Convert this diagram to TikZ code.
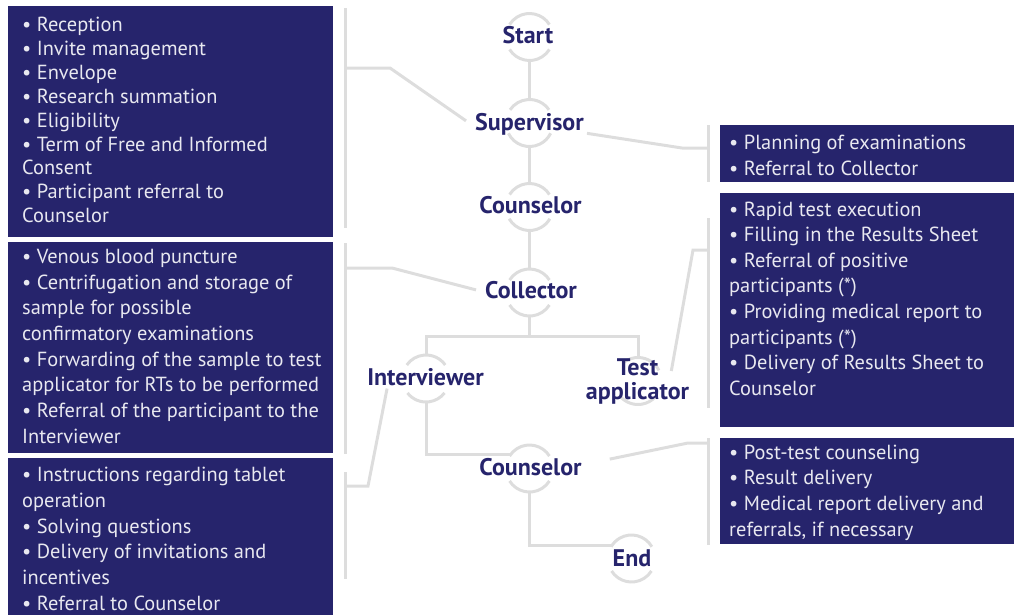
\documentclass[tikz,border=0pt]{standalone}
\usepackage{fontspec}
\setmainfont{PT Sans}
\definecolor{navy}{RGB}{38,36,108}
\definecolor{boxtext}{RGB}{232,232,240}
\definecolor{rule}{RGB}{221,221,221}
\tikzset{
  conn/.style={draw=rule, line width=3pt},
  panel/.style={fill=navy, draw=none, anchor=north west, inner sep=0pt, outer sep=0pt},
  itemtext/.style={anchor=base west, inner sep=0pt, text=boxtext},
  role/.style={anchor=base, inner sep=0pt, text=navy, font=\bfseries\fontsize{24}{24}\selectfont, align=center},
  ring/.style={circle, minimum size=47pt, inner sep=0pt, outer sep=0pt, draw=none},
}
% task list set with fixed line breaks
\newcommand\itemlist[2]{\parbox[t]{420pt}{\raggedright\fontsize{20.4}{#1}\selectfont #2}}
% grey ring drawn as an upper and a lower arc around a role
\newcommand\ringarcs[5]{%
  \draw[conn] (#1.#2) arc[start angle=#2, end angle=#3, radius=23.5pt];
  \draw[conn] (#1.#4) arc[start angle=#4, end angle=#5, radius=23.5pt];}
\begin{document}
\begin{tikzpicture}[x=1pt, y=-1pt]
\useasboundingbox (0,0) rectangle (1014,614);

% ---- task panels ----
\node[panel, minimum width=325pt, minimum height=231pt] (p1) at (8,6) {};
\node[panel, minimum width=325pt, minimum height=211pt] (p2) at (8,242) {};
\node[panel, minimum width=325pt, minimum height=160pt] (p3) at (8,458) {};
\node[panel, minimum width=294pt, minimum height=57pt] (p4) at (720,125) {};
\node[panel, minimum width=294pt, minimum height=234pt] (p5) at (720,193) {};
\node[panel, minimum width=294pt, minimum height=106pt] (p6) at (720,438) {};

\node[itemtext] (t1) at (22,31.5) {\itemlist{23.9}{• Reception\\• Invite management\\• Envelope\\• Research summation\\• Eligibility\\• Term of Free and Informed\\Consent\\• Participant referral to\\Counselor}};
\node[itemtext] (t2) at (22,263.3) {\itemlist{25.7}{• Venous blood puncture\\• Centrifugation and storage of\\sample for possible\\confirmatory examinations\\• Forwarding of the sample to test\\applicator for RTs to be performed\\• Referral of the participant to the\\Interviewer}};
\node[itemtext] (t3) at (22,481.7) {\itemlist{25.7}{• Instructions regarding tablet\\operation\\• Solving questions\\• Delivery of invitations and\\incentives\\• Referral to Counselor}};
\node[itemtext] (t4) at (729,149.3) {\itemlist{25.7}{• Planning of examinations\\• Referral to Collector}};
\node[itemtext] (t5) at (729,216) {\itemlist{25.6}{• Rapid test execution\\• Filling in the Results Sheet\\• Referral of positive\\participants (*)\\• Providing medical report to\\participants (*)\\• Delivery of Results Sheet to\\Counselor}};
\node[itemtext] (t6) at (729,459) {\itemlist{25.9}{• Post-test counseling\\• Result delivery\\• Medical report delivery and\\referrals, if necessary}};

% ---- brackets beside the panels ----
\draw[conn] (345,8) -- (345,228);
\draw[conn] (345,243) -- (345,454);
\draw[conn] (345,472) -- (345,579);
\draw[conn] (708,125) -- (708,182);
\draw[conn] (708,218) -- (708,408);
\draw[conn] (708,438) -- (708,545);
\coordinate (lb1) at (345,68);
\coordinate (lb2) at (345,268);
\coordinate (lb3) at (345,486);
\coordinate (rb1) at (708,148);
\coordinate (rb2) at (708,250);
\coordinate (rb3) at (708,443);

% ---- roles ----
\node[ring] (startr) at (529.5,37) {};
\node[ring] (supr) at (529.5,123) {};
\node[ring] (coun1r) at (529.5,207) {};
\node[ring] (collr) at (529.5,292.5) {};
\node[ring] (intvr) at (426,378.5) {};
\node[ring] (testr) at (638,381) {};
\node[ring] (coun2r) at (529.5,468.5) {};
\node[ring] (endr) at (631.5,558.5) {};

\ringarcs{startr}{32}{148}{212}{328}
\ringarcs{supr}{34}{146}{206}{334}
\ringarcs{coun1r}{32}{148}{210}{330}
\ringarcs{collr}{32}{148}{212}{328}
\ringarcs{intvr}{35}{145}{218}{322}
\ringarcs{testr}{27}{128}{220}{320}
\ringarcs{coun2r}{32}{148}{212}{328}
\ringarcs{endr}{30}{150}{212}{328}

\node[role] (start) at (528,43.3) {Start};
\node[role] (sup) at (529.5,130) {Supervisor};
\node[role] (coun1) at (530.5,213.3) {Counselor};
\node[role] (coll) at (531,298.3) {Collector};
\node[role] (intv) at (425.5,385) {Interviewer};
\node[role, anchor=center] (testl) at (637.5,381) {Test\\applicator};
\node[role] (coun2) at (530.5,475) {Counselor};
\node[role] (endl) at (632,566.7) {End};

% ---- flow ----
\coordinate (fork) at (529.5,336);
\draw[conn] (startr.south) -- (supr.north);
\draw[conn] (supr.south) -- (coun1r.north);
\draw[conn] (coun1r.south) -- (collr.north);
\draw[conn] (collr.south) -- (fork);
\draw[conn] (intvr.north) |- (fork) -| (testr.north);
\draw[conn] (intvr.south) |- (coun2r.142);
\draw[conn] (coun2r.south) |- (endr.145);

% ---- panel links ----
\draw[conn] (lb1) -- (390,68) -- ([xshift=-9pt,yshift=3pt]sup.west);
\draw[conn] (lb2) -- (392,268) -- ([xshift=-9pt]coll.west);
\draw[conn] (lb3) -- (368,486) -- ([xshift=20pt,yshift=-3pt]intv.south west);
\draw[conn] (rb1) -- (682,148) -- ([xshift=3pt,yshift=-9.5pt]sup.east);
\draw[conn] (rb2) -- (693,250) -- ([xshift=-18pt,yshift=10pt]testl.east);
\draw[conn] (rb3) -- (688,443) -- ([xshift=28pt,yshift=7.5pt]coun2.east);
\end{tikzpicture}
\end{document}
